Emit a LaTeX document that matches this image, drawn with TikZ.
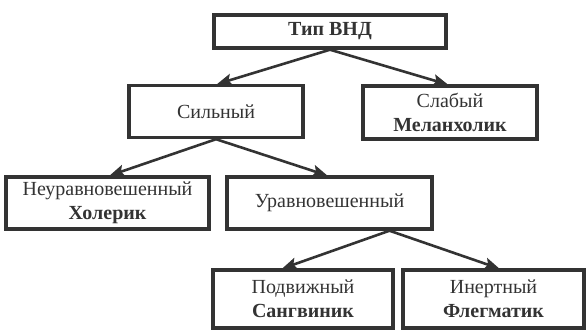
\documentclass[tikz,border=0pt]{standalone}
\usepackage{fontspec}
\setmainfont{Liberation Serif}
\usetikzlibrary{arrows.meta,calc}
\definecolor{ink}{HTML}{333333}
\begin{document}
\begin{tikzpicture}[x=1pt,y=-1pt,
  box/.style={draw=ink, text=ink, line width=3.4pt, inner sep=0pt, align=center,
    font=\fontsize{20}{24}\selectfont},
  arr/.style={draw=ink, line width=2.6pt, -{Stealth[length=15pt,width=12pt,inset=3pt]}, shorten >=-1pt}
]
\useasboundingbox (0,0) rectangle (587,335);
\node[box, minimum width=232pt, minimum height=33pt] (top) at (330,31.5) {\textbf{Тип ВНД}};
\node[box, minimum width=174pt, minimum height=52pt] (sil) at (216,111.5) {Сильный};
\node[box, minimum width=174pt, minimum height=53pt] (sla) at (450,112.5) {Слабый\\\textbf{Меланхолик}};
\node[box, minimum width=203pt, minimum height=52pt] (ne) at (107.5,203) {Неуравновешенный\\\textbf{Холерик}};
\node[box, minimum width=205pt, minimum height=52pt] (ur) at (329.5,203) {Уравновешенный};
\node[box, minimum width=180pt, minimum height=58pt] (pod) at (303,299) {Подвижный\\\textbf{Сангвиник}};
\node[box, minimum width=181pt, minimum height=58pt] (in) at (493.5,299) {Инертный\\\textbf{Флегматик}};
\coordinate (ura) at ($(ur.south)+(60,0)$);
\draw[arr] (top.south) -- ($(sil.north)+(2,0)$);
\draw[arr] (top.south) -- ($(sla.north)+(-3,0)$);
\draw[arr] (sil.south) -- ($(ne.north)+(3,0)$);
\draw[arr] (sil.south) -- ($(ur.north)+(-3,0)$);
\draw[arr] (ura) -- ($(pod.north)+(-20,0)$);
\draw[arr] (ura) -- ($(in.north)+(5,0)$);
\end{tikzpicture}
\end{document}
